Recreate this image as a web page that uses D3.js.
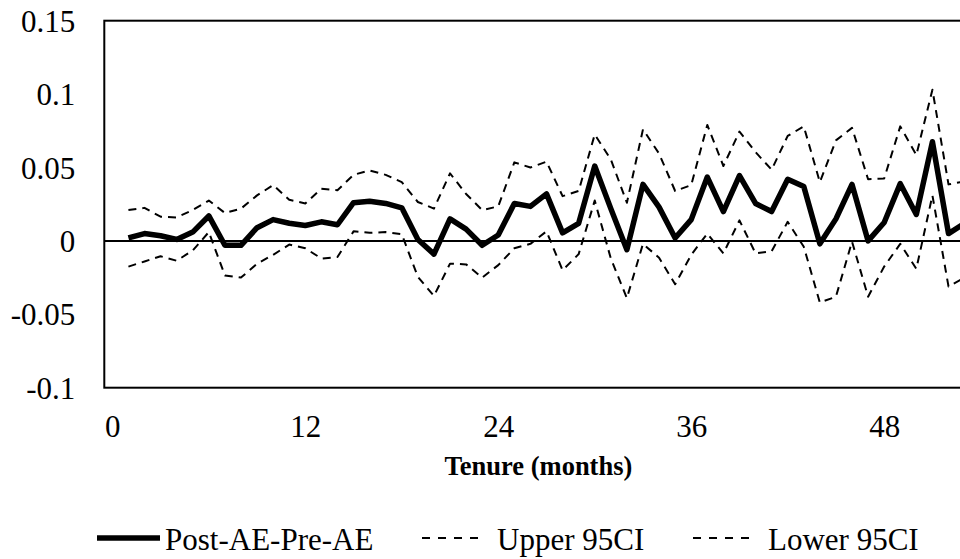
<!DOCTYPE html>
<html>
<head>
<meta charset="utf-8">
<script src="https://cdn.jsdelivr.net/npm/d3@7"></script>
<style>
    body { margin: 0; background: #fff; overflow: hidden; }
    svg { display: block; }
</style>
</head>
<body>
<svg id="chart" width="960" height="559"></svg>
<script>
// tenure in months, 1..53
const months = d3.range(1, 54);

const diff = [0.002, 0.005, 0.0035, 0.001, 0.006, 0.017, -0.003, -0.003, 0.009, 0.0145,
    0.012, 0.0105, 0.013, 0.011, 0.026, 0.027, 0.0255, 0.0225, 0.001, -0.009,
    0.015, 0.008, -0.003, 0.004, 0.0255, 0.0235, 0.032, 0.0055, 0.012, 0.051,
    0.022, -0.006, 0.0385, 0.023, 0.002, 0.0145, 0.0435, 0.020, 0.0445, 0.0255,
    0.020, 0.042, 0.037, -0.002, 0.015, 0.0385, 0.000, 0.0125, 0.039, 0.018,
    0.0675, 0.005, 0.012];

const upper = [0.021, 0.0225, 0.0165, 0.016, 0.021, 0.0275, 0.019, 0.022, 0.031, 0.038,
    0.028, 0.0255, 0.0355, 0.0345, 0.045, 0.048, 0.045, 0.040, 0.0265, 0.022,
    0.046, 0.032, 0.021, 0.0235, 0.0535, 0.050, 0.054, 0.0305, 0.034, 0.0725,
    0.0555, 0.026, 0.076, 0.0595, 0.034, 0.038, 0.079, 0.051, 0.0745, 0.0605,
    0.0485, 0.0715, 0.078, 0.040, 0.0685, 0.077, 0.042, 0.0425, 0.078, 0.0585,
    0.103, 0.0385, 0.0405];

const lower = [-0.0175, -0.014, -0.0105, -0.0135, -0.0065, 0.006, -0.0235, -0.025, -0.0155, -0.0095,
    -0.0025, -0.005, -0.012, -0.011, 0.0065, 0.0055, 0.006, 0.0045, -0.0245, -0.0375,
    -0.0155, -0.016, -0.025, -0.0165, -0.005, -0.002, 0.0065, -0.020, -0.009, 0.0275,
    -0.012, -0.039, -0.002, -0.0115, -0.0295, -0.0095, 0.005, -0.0085, 0.014, -0.0085,
    -0.007, 0.013, -0.004, -0.042, -0.038, -0.0005, -0.038, -0.0175, -0.002, -0.019,
    0.031, -0.031, -0.025];

const xTicks = [0, 12, 24, 36, 48];
const yTicks = [-0.1, -0.05, 0, 0.05, 0.1, 0.15];
const seriesNames = ['Post-AE-Pre-AE', 'Upper 95CI', 'Lower 95CI'];

const serif = '"Liberation Serif"';

window.addEventListener('load', function() {
    drawChart();
});

function drawChart() {
    let svg = d3.select('#chart');
    let left = 104.3, top = 20.7, bottom = 387.7;
    let slot = 16.08;

    // category axis 0..53, labels centred in their slot
    let x = d3.scaleLinear()
        .domain([-0.5, 53.5])
        .range([left, left + 54 * slot]);
    let y = d3.scaleLinear()
        .domain([-0.1, 0.15])
        .range([bottom, top]);

    svg.append('rect')
        .attr('x', x(-0.5))
        .attr('y', y(0.15))
        .attr('width', x(53.5) - x(-0.5))
        .attr('height', y(-0.1) - y(0.15))
        .attr('fill', 'none')
        .attr('stroke', '#000')
        .attr('stroke-width', 2);

    svg.append('line')
        .attr('x1', x(-0.5))
        .attr('x2', x(53.5))
        .attr('y1', y(0))
        .attr('y2', y(0))
        .attr('stroke', '#000')
        .attr('stroke-width', 2);

    let yAxis = svg.append('g')
        .attr('transform', 'translate(' + (left - 29) + ',0)')
        .call(d3.axisLeft(y).tickValues(yTicks).tickSize(0).tickPadding(0)
            .tickFormat(d => String(+d.toFixed(2))));
    yAxis.select('.domain').remove();
    yAxis.selectAll('text')
        .style('font-family', serif)
        .style('font-size', '31px')
        .attr('fill', '#000')
        .attr('dy', '0.34em');

    let xAxis = svg.append('g')
        .attr('transform', 'translate(0,' + bottom + ')')
        .call(d3.axisBottom(x).tickValues(xTicks).tickSize(0).tickPadding(0));
    xAxis.select('.domain').remove();
    xAxis.selectAll('text')
        .style('font-family', serif)
        .style('font-size', '31px')
        .attr('fill', '#000')
        .attr('y', 49)
        .attr('dy', 0);

    svg.append('text')
        .attr('x', (x(-0.5) + x(53.5)) / 2)
        .attr('y', 475)
        .attr('text-anchor', 'middle')
        .style('font-family', serif)
        .style('font-size', '26.5px')
        .style('font-weight', 'bold')
        .text('Tenure (months)');

    let line = d3.line()
        .x((d, i) => x(months[i]))
        .y(d => y(d));

    let series = [
        {name: seriesNames[0], values: diff, width: 5.5, dash: null},
        {name: seriesNames[1], values: upper, width: 2, dash: '8,6'},
        {name: seriesNames[2], values: lower, width: 2, dash: '8,6'}
    ];

    svg.selectAll('path.series')
        .data(series).enter()
        .append('path')
        .attr('class', 'series')
        .attr('d', d => line(d.values))
        .attr('fill', 'none')
        .attr('stroke', '#000')
        .attr('stroke-width', d => d.width)
        .attr('stroke-dasharray', d => d.dash)
        .attr('stroke-linejoin', 'round');

    // legend
    let legendX = [97, 422, 693];
    let legend = svg.selectAll('g.legend')
        .data(series).enter()
        .append('g')
        .attr('class', 'legend')
        .attr('transform', (d, i) => 'translate(' + legendX[i] + ',538)');
    legend.append('line')
        .attr('x1', 0)
        .attr('x2', 63)
        .attr('y1', 0)
        .attr('y2', 0)
        .attr('stroke', '#000')
        .attr('stroke-width', d => d.width)
        .attr('stroke-dasharray', d => d.dash ? '8,8' : null);
    legend.append('text')
        .attr('x', (d, i) => i == 0 ? 68 : 75)
        .attr('y', 12)
        .style('font-family', serif)
        .style('font-size', '31px')
        .text(d => d.name);
}
</script>
</body>
</html>
